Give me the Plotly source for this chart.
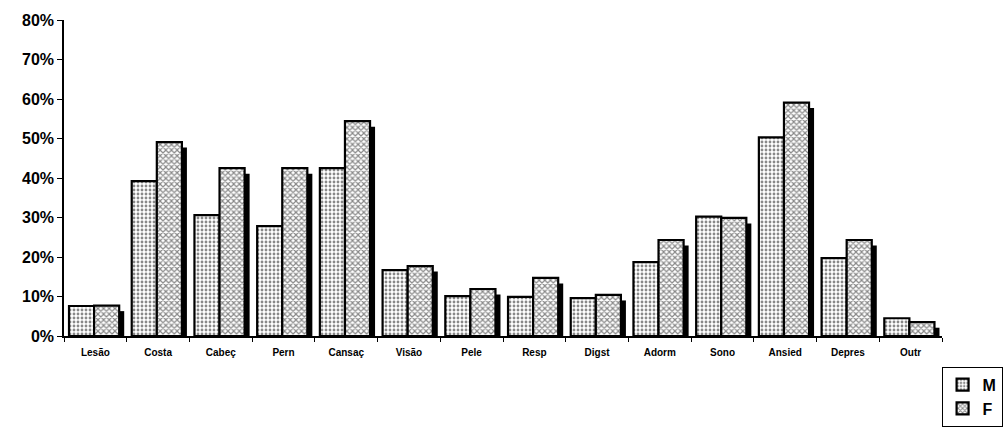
import plotly.graph_objects as go

categories = ["Lesão", "Costa", "Cabeç", "Pern", "Cansaç", "Visão", "Pele",
              "Resp", "Digst", "Adorm", "Sono", "Ansied", "Depres", "Outr"]
m_values = [7.6, 39.2, 30.6, 27.8, 42.5, 16.7, 10.1, 9.9, 9.6, 18.7, 30.2, 50.3, 19.7, 4.5]
f_values = [7.7, 49.1, 42.5, 42.5, 54.4, 17.7, 11.9, 14.7, 10.4, 24.3, 29.9, 59.1, 24.3, 3.5]
y_ticks = [0, 10, 20, 30, 40, 50, 60, 70, 80]
y_tick_labels = [f"{t}%" for t in y_ticks]

SHADOW_DROP = 1.4  # shadow top sits slightly below the bar top (in % units)
BAR_W = 0.4

fig = go.Figure()

# drop shadows behind each bar (M first, F on top of it)
for vals, off in ((m_values, -0.34), (f_values, 0.06)):
    fig.add_trace(go.Bar(
        x=categories, y=[max(v - SHADOW_DROP, 0) for v in vals],
        offset=off, width=BAR_W,
        marker=dict(color="black", line=dict(width=0)),
        showlegend=False, hoverinfo="skip",
    ))

fig.add_trace(go.Bar(
    x=categories, y=m_values, name="M",
    offset=-0.42, width=BAR_W,
    marker=dict(
        color="white",
        line=dict(color="black", width=2.2),
        pattern=dict(shape=".", size=4, solidity=0.4,
                     fgcolor="#111", bgcolor="white"),
    ),
))
fig.add_trace(go.Bar(
    x=categories, y=f_values, name="F",
    offset=-0.02, width=BAR_W,
    marker=dict(
        color="white",
        line=dict(color="black", width=2.2),
        pattern=dict(shape="x", size=4, solidity=0.5,
                     fgcolor="#111", bgcolor="white"),
    ),
))

fig.update_layout(
    width=1004, height=439,
    barmode="overlay",
    plot_bgcolor="white", paper_bgcolor="white",
    margin=dict(l=64, r=62, t=20, b=103, autoexpand=False),
    font=dict(family="Arial, Liberation Sans, sans-serif", color="black"),
    legend=dict(
        x=1.069, y=-0.097, xanchor="right", yanchor="top",
        bordercolor="black", borderwidth=1,
        font=dict(size=16, weight="bold"),
        itemwidth=30, tracegroupgap=0,
        bgcolor="white",
    ),
    xaxis=dict(
        showline=True, linecolor="black", linewidth=1.5,
        ticks="outside", tickson="boundaries", ticklen=4, tickcolor="black",
        tickfont=dict(size=10, weight="bold"), showgrid=False,
        ticklabelstandoff=6,
        range=[-0.5, len(categories) - 0.5],
    ),
    yaxis=dict(
        range=[0, 80], tickvals=y_ticks, ticktext=y_tick_labels,
        showline=True, linecolor="black", linewidth=1.5,
        ticks="outside", ticklen=5, tickcolor="black",
        tickfont=dict(size=16, weight="bold"), showgrid=False, zeroline=False,
    ),
)

fig.write_html("out.html")
